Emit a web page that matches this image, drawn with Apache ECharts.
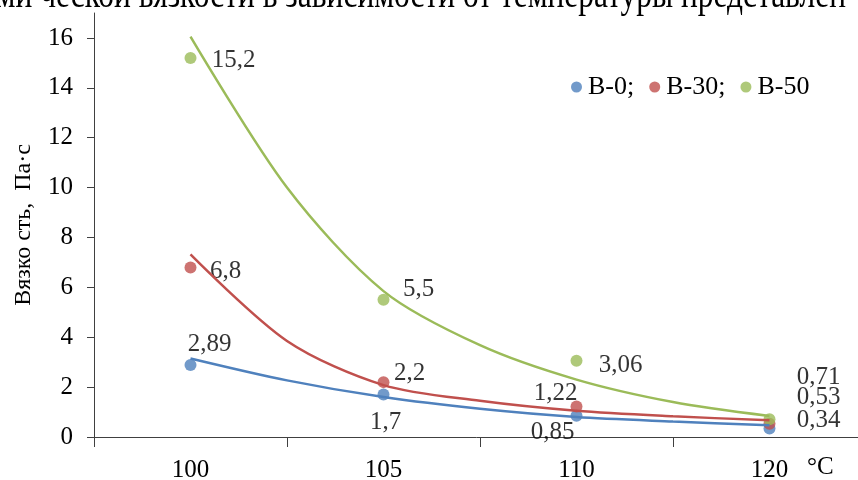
<!DOCTYPE html>
<html lang="ru">
<head>
<meta charset="UTF-8">
<title>Вязкость</title>
<script src="https://cdn.jsdelivr.net/npm/echarts@6/dist/echarts.min.js"></script>
<style>
  html, body { margin: 0; padding: 0; background: #fff; }
  #chart { width: 858px; height: 480px; }
</style>
</head>
<body>
<div id="chart"></div>
<script>
    // температура, °C
    var temps = ['100', '105', '110', '120'];
    var yTicks = [0, 2, 4, 6, 8, 10, 12, 14, 16];

    // измеренные значения вязкости, Па·с
    var b0 = [2.89, 1.7, 0.85, 0.34];
    var b30 = [6.8, 2.2, 1.22, 0.53];
    var b50 = [15.2, 5.5, 3.06, 0.71];

    // линии тренда (позиция = номер категории)
    var trendPos = [0, 0.5, 1, 1.5, 2, 2.5, 3];
    var b0Trend = [3.15, 2.27, 1.6, 1.13, 0.8, 0.62, 0.47];
    var b30Trend = [7.32, 3.85, 2.08, 1.45, 1.05, 0.83, 0.67];
    var b50Trend = [16.05, 10.0, 5.85, 3.68, 2.3, 1.4, 0.84];

    // сдвиги подписей точек
    var offs0 = [[19, -20], [2, 28], [-24, 17], [49, -8]];
    var offs30 = [[35, 4], [26, -9], [-21, -13], [49, -26]];
    var offs50 = [[43, 3], [35, -10], [44, 5], [49, -42]];

    var font = '"Liberation Serif", "Times New Roman", serif';
    var colors = ['#4F81BD', '#C0504D', '#9BBB59'];

    function points(vals, offs) {
        return vals.map(function (v, i) {
            return { value: v, label: { offset: offs[i] } };
        });
    }

    function scatter(name, vals, offs, color) {
        return {
            name: name,
            type: 'scatter',
            symbol: 'circle',
            symbolSize: 12,
            itemStyle: { color: color },
            z: 2,
            label: {
                show: true,
                position: 'inside',
                color: '#000',
                fontFamily: font,
                fontSize: 25,
                formatter: function (p) { return String(p.value).replace('.', ','); }
            },
            data: points(vals, offs)
        };
    }

    function trend(vals, color) {
        return {
            type: 'line',
            xAxisIndex: 1,
            data: vals.map(function (v, i) { return [trendPos[i], v]; }),
            smooth: 0.3,
            symbol: 'none',
            silent: true,
            z: 3,
            lineStyle: { color: color, width: 2.5 }
        };
    }

    var chart = echarts.init(document.getElementById('chart'));
    chart.setOption({
        backgroundColor: '#fff',
        animation: false,
        textStyle: { fontFamily: font },
        grid: { left: 94, right: -8, top: 13, bottom: 43, outerBoundsMode: 'none' },
        legend: {
            data: ['B-0;', 'B-30;', 'B-50'],
            left: 566,
            top: 69,
            icon: 'circle',
            itemWidth: 11,
            itemHeight: 11,
            itemGap: 15,
            textStyle: { fontFamily: font, fontSize: 26, color: '#000', padding: [0, 0, 0, 1] }
        },
        xAxis: [
            {
                type: 'category',
                data: temps,
                boundaryGap: true,
                axisLine: { onZero: false, lineStyle: { color: '#404040', width: 1 } },
                axisTick: { show: true, length: 10, lineStyle: { color: '#404040' } },
                axisLabel: { color: '#000', fontFamily: font, fontSize: 25, margin: 21 },
                splitLine: { show: false }
            },
            {
                type: 'value',
                min: -0.5,
                max: 3.5,
                show: false
            }
        ],
        yAxis: {
            type: 'value',
            min: 0,
            max: 17,
            name: 'Вязко сть,  Па·с',
            nameLocation: 'middle',
            nameRotate: 90,
            nameGap: 58,
            nameTextStyle: { color: '#000', fontFamily: font, fontSize: 24 },
            axisLine: { show: true, onZero: false, lineStyle: { color: '#404040', width: 1 } },
            axisTick: { show: true, length: 7, customValues: yTicks, lineStyle: { color: '#404040' } },
            axisLabel: { color: '#000', fontFamily: font, fontSize: 25, margin: 21, customValues: yTicks },
            splitLine: { show: false }
        },
        graphic: [
            {
                type: 'text',
                x: 846,
                y: 17,
                scaleX: 0.767,
                style: {
                    text: 'ми ческой вязкости в зависимости от температуры представлен',
                    font: '41px ' + font,
                    fill: '#000',
                    align: 'right',
                    verticalAlign: 'bottom'
                }
            },
            {
                type: 'text',
                left: 807,
                top: 455,
                style: { text: '°C', font: '25px ' + font, fill: '#000' }
            }
        ],
        series: [
            scatter('B-0;', b0, offs0, colors[0]),
            scatter('B-30;', b30, offs30, colors[1]),
            scatter('B-50', b50, offs50, colors[2]),
            trend(b0Trend, colors[0]),
            trend(b30Trend, colors[1]),
            trend(b50Trend, colors[2])
        ]
    });
</script>
</body>
</html>
